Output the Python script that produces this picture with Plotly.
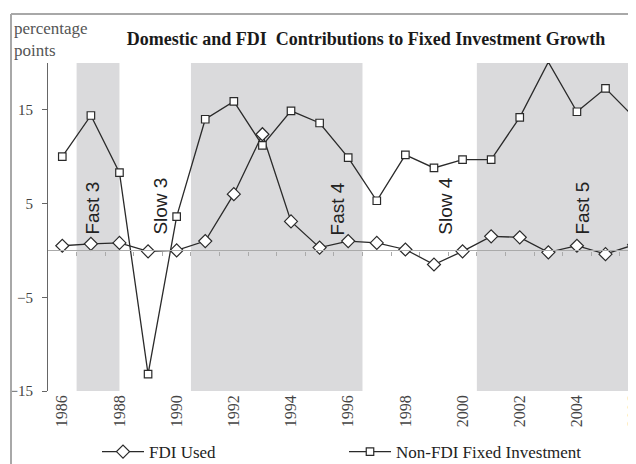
import plotly.graph_objects as go

years = list(range(1986, 2007))
fdi_used = [0.5, 0.7, 0.8, -0.1, 0.0, 1.0, 6.0, 12.4, 3.1, 0.3, 1.0,
            0.8, 0.1, -1.5, -0.1, 1.5, 1.4, -0.2, 0.5, -0.4, 0.6]
non_fdi = [10.0, 14.4, 8.3, -13.2, 3.6, 14.0, 15.9, 11.2, 14.9, 13.6, 9.9,
           5.3, 10.2, 8.8, 9.7, 9.7, 14.2, 20.1, 14.8, 17.3, 14.2]

# shaded growth phases: start, end
phase_start = [1986.5, 1990.5, 2000.5]
phase_end = [1988.0, 1996.5, 2007.0]
# phase labels
phase_labels = ["Fast 3", "Slow 3", "Fast 4", "Slow 4", "Fast 5"]
phase_label_x = [1987.04, 1989.42, 1995.64, 1999.39, 2004.18]

x_tick_vals = list(range(1986, 2007, 2))
y_tick_vals = [-15, -5, 5, 15]

# page body has an 8px margin: the figure starts at screen (8, 8)
OFF = 8
W, H = 636, 464
ML = 48 - OFF
MT = 63 - OFF
MB = H - (391 - OFF)
MR = OFF
plot_h = H - MT - MB
plot_w = W - ML - MR

def sy(py):  # screen y -> paper
    return (H - MB - (py - OFF)) / plot_h

def sx(px):  # screen x -> paper
    return ((px - OFF) - ML) / plot_w

fig = go.Figure()

line_col = "#2a2a2a"
fig.add_trace(go.Scatter(
    x=years, y=fdi_used, name="FDI Used", mode="lines+markers",
    line=dict(color=line_col, width=1.3),
    marker=dict(symbol="diamond", size=10, color="white",
                line=dict(color=line_col, width=1.2)),
    cliponaxis=False,
))
fig.add_trace(go.Scatter(
    x=years, y=non_fdi, name="Non-FDI Fixed Investment", mode="lines+markers",
    line=dict(color=line_col, width=1.3),
    marker=dict(symbol="square", size=7.5, color="white",
                line=dict(color=line_col, width=1.2)),
    cliponaxis=False,
))
# helper trace for the category axis drawn through zero
fig.add_trace(go.Scatter(x=[], y=[], xaxis="x2", showlegend=False, hoverinfo="skip"))

for s, e in zip(phase_start, phase_end):
    fig.add_shape(type="rect", xref="x", yref="y", x0=s, x1=e, y0=-15, y1=20,
                  fillcolor="#dadadc", line=dict(width=0), layer="below")

for lab, lx in zip(phase_labels, phase_label_x):
    fig.add_annotation(x=lx, y=1.43, xref="x", yref="y", text=lab,
                       textangle=-90, showarrow=False, yanchor="bottom",
                       xanchor="center",
                       font=dict(family="Liberation Sans, Arial", size=19, color="#222"))

# outer frame
fig.add_shape(type="line", xref="paper", yref="paper",
              x0=sx(11), x1=sx(11), y0=sy(470), y1=sy(14),
              line=dict(color="#a8a8a8", width=2), layer="above")
fig.add_shape(type="line", xref="paper", yref="paper",
              x0=sx(11), x1=sx(640), y0=sy(14), y1=sy(14),
              line=dict(color="#a8a8a8", width=2), layer="above")

fig.add_annotation(x=sx(12), y=sy(28), xref="paper", yref="paper",
                   text="percentage", showarrow=False, xanchor="left", yanchor="middle",
                   font=dict(family="Liberation Serif, Times New Roman", size=17, color="#555"))
fig.add_annotation(x=sx(12), y=sy(51), xref="paper", yref="paper",
                   text="points", showarrow=False, xanchor="left", yanchor="middle",
                   font=dict(family="Liberation Serif, Times New Roman", size=17, color="#555"))

xr = [1985.5, 1985.5 + plot_w / 28.59]

fig.update_layout(
    width=W, height=H,
    margin=dict(l=ML, r=MR, t=MT, b=MB, autoexpand=False),
    paper_bgcolor="white", plot_bgcolor="white",
    title=dict(text="<b>Domestic and FDI  Contributions to Fixed Investment Growth</b>",
               x=sx(366), xref="paper", xanchor="center",
               y=1 - (39 - OFF) / H, yanchor="middle",
               font=dict(family="Liberation Serif, Times New Roman", size=18, color="#1a1a1a")),
    xaxis=dict(range=xr, tickvals=x_tick_vals, ticktext=[str(v) for v in x_tick_vals],
               tickangle=-90, showgrid=False, zeroline=False, showline=False, automargin=False,
               ticks="", tickfont=dict(family="Liberation Serif, Times New Roman", size=16, color="#444")),
    xaxis2=dict(range=xr, overlaying="x", anchor="free", position=15 / 35,
                showline=True, linecolor="#aaaaaa", linewidth=1.2, automargin=False,
                tickvals=[y + 0.5 for y in years[:-1]], ticks="outside", ticklen=4,
                tickcolor="#aaaaaa", tickwidth=1, showticklabels=False,
                showgrid=False, zeroline=False, side="bottom"),
    yaxis=dict(range=[-15, 20], tickvals=y_tick_vals, showgrid=False, zeroline=False,
               showline=True, linecolor="#666", linewidth=1.2, ticks="outside",
               ticklen=5, tickcolor="#666", automargin=False, ticklabelstandoff=6,
               tickfont=dict(family="Liberation Serif, Times New Roman", size=15, color="#444")),
    legend=dict(orientation="h", x=sx(97), xanchor="left",
                y=sy(452), yanchor="middle", entrywidth=190, itemwidth=42,
                font=dict(family="Liberation Serif, Times New Roman", size=17, color="#222"),
                bgcolor="rgba(0,0,0,0)"),
    showlegend=True,
)

fig.write_html("out.html")
